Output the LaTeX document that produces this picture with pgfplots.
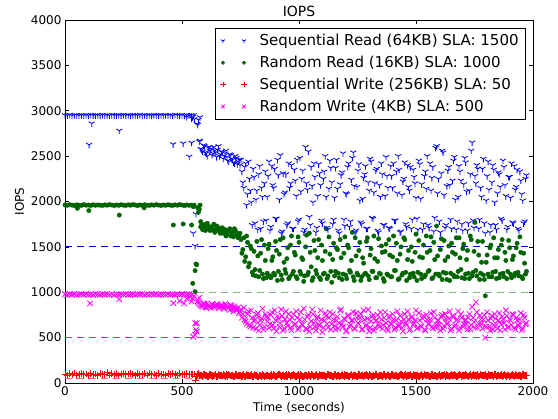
\documentclass[border=0pt]{standalone}
\usepackage{pgfplots}
\pgfplotsset{compat=1.18}
\usepackage{pgfplotstable}
\usetikzlibrary{plotmarks}
\usepackage{fontspec}
\setmainfont{DejaVu Sans}
\definecolor{mplgreen}{RGB}{0,100,0}
\definecolor{slagreen}{RGB}{0,128,0}
\definecolor{mplmag}{RGB}{255,0,255}
\definecolor{mplred}{RGB}{255,0,0}
\definecolor{mplblue}{RGB}{0,0,255}
\definecolor{slablue}{RGB}{0,0,200}
\definecolor{slagreenl}{RGB}{128,180,128}
\definecolor{slaredl}{RGB}{255,110,110}

\pgfplotstableread{
t sr rr sw rw
0 2950 1962 95 978
10 2948 1958 88 972
20 2955 1965 102 980
30 2945 1960 92 975
40 2952 1955 110 982
50 2950 1963 85 970
60 2947 1960 98 976
70 2953 1957 105 979
80 2949 1966 90 973
90 2951 1959 100 981
100 2946 1961 87 974
110 2954 1956 108 977
120 2950 1964 93 971
130 2948 1958 99 983
140 2952 1962 86 976
150 2947 1960 104 972
160 2955 1957 91 980
170 2949 1963 97 975
180 2951 1959 112 978
190 2946 1965 89 973
200 2953 1961 101 982
210 2950 1956 94 970
220 2948 1962 107 977
230 2952 1958 88 974
240 2947 1964 96 979
250 2954 1960 103 976
260 2949 1957 90 981
270 2951 1963 99 972
280 2946 1959 109 975
290 2953 1966 92 980
300 2950 1961 86 973
310 2948 1955 105 978
320 2955 1962 97 976
330 2947 1958 91 982
340 2952 1964 102 971
350 2949 1960 88 977
360 2951 1957 110 974
370 2946 1963 94 979
380 2954 1959 100 975
390 2950 1965 87 981
400 2948 1961 106 972
410 2953 1956 93 978
420 2947 1962 99 976
430 2952 1958 89 973
440 2949 1964 104 980
450 2951 1960 91 975
460 2946 1957 108 977
470 2954 1963 96 972
480 2950 1959 88 979
490 2948 1966 102 974
500 2953 1961 95 981
510 2947 1955 90 976
520 2952 1962 106 973
530 2949 1958 93 978
540 2951 1960 99 975
580 2580 1720 88 860
588 2550 1690 76 840
596 2610 1745 95 875
604 2530 1700 82 830
612 2590 1730 70 855
620 2560 1680 92 845
628 2510 1710 85 870
636 2600 1750 78 835
644 2540 1690 99 850
652 2570 1720 73 865
660 2500 1670 87 825
668 2550 1700 80 848
676 2470 1650 94 838
684 2530 1690 71 872
692 2490 1640 84 842
700 2440 1680 90 828
708 2510 1620 77 858
716 2460 1660 86 815
724 2420 1700 74 846
732 2480 1630 96 800
740 2440 1600 81 832
748 2400 1650 80 790
756 2330 1430 72 720
764 2150 1600 91 830
772 2420 1390 68 680
780 2080 1550 85 760
788 2250 1320 77 640
796 1990 1480 94 800
804 2360 1190 70 610
812 1760 1250 83 700
820 2120 1560 88 750
828 2300 1170 66 580
836 1700 1430 79 690
844 2050 1200 92 820
852 2200 1520 74 620
860 1790 1160 86 730
868 2280 1480 78 720
876 1680 1180 84 650
884 2390 1350 71 780
892 2150 1210 90 600
900 1810 1560 76 690
908 2460 1130 82 740
916 2020 1420 95 620
924 1650 1190 73 810
932 2310 1600 86 580
940 2100 1250 79 700
948 1740 1370 68 660
956 2420 1150 92 760
964 2200 1520 75 610
972 1700 1200 87 720
980 2350 1440 80 640
988 2060 1170 72 790
996 1780 1610 94 590
1004 2480 1230 77 700
1012 2250 1380 85 650
1020 1660 1120 70 820
1028 2600 1500 89 600
1036 2130 1190 76 730
1044 1830 1650 83 570
1052 2380 1280 91 680
1060 1990 1160 74 760
1068 2270 1460 81 620
1076 1710 1200 96 710
1084 2410 1580 72 640
1092 2180 1140 88 800
1100 1760 1350 79 560
1108 2330 1210 85 690
1116 2050 1700 69 740
1124 1690 1180 93 610
1132 2450 1420 78 780
1140 2210 1110 86 650
1148 1800 1540 75 700
1156 2370 1230 90 590
1164 2140 1470 80 730
1172 1650 1160 71 660
1180 2290 1380 87 810
1188 2530 1200 77 620
1196 1730 1610 94 700
1204 2080 1150 82 580
1212 2420 1490 73 750
1220 1780 1220 89 640
1228 2480 1660 76 690
1236 2170 1130 84 600
1244 1680 1400 70 770
1252 2340 1190 92 660
1260 2010 1550 79 720
1268 1750 1170 86 590
1276 2260 1320 74 800
1284 2390 1210 88 630
1292 1700 1600 81 710
1300 2120 1140 95 570
1308 2440 1480 72 680
1316 1810 1230 85 750
1324 2200 1370 78 610
1332 2360 1160 91 690
1340 1660 1590 75 640
1348 2050 1200 83 780
1356 2300 1440 69 600
1364 1740 1120 90 720
1372 2490 1530 77 660
1380 2150 1190 86 580
1388 1700 1410 73 740
1396 2280 1170 94 650
1404 2420 1620 80 700
1412 1790 1240 87 610
1420 2090 1350 71 790
1428 2350 1150 84 630
1436 1670 1500 92 680
1444 2220 1210 76 570
1452 2430 1580 89 760
1460 1720 1130 74 640
1468 2160 1460 82 700
1476 2380 1200 95 590
1484 1800 1340 70 730
1492 2270 1170 87 660
1500 2040 1640 79 800
1508 1690 1220 85 610
1516 2410 1390 73 690
1524 2190 1150 91 620
1532 1750 1520 77 740
1540 2330 1190 83 580
1548 2500 1440 88 700
1556 1710 1240 72 650
1564 2120 1610 94 770
1572 2380 1160 80 600
1580 1820 1360 86 720
1588 2610 1730 75 640
1596 2250 1200 89 690
1604 1660 1470 71 580
1612 2560 1140 84 750
1620 2070 1570 92 630
1628 1740 1210 78 710
1636 2340 1390 85 660
1644 2180 1130 74 790
1652 1700 1540 90 600
1660 2450 1190 81 730
1668 2020 1420 87 640
1676 1780 1170 76 700
1684 2390 1600 93 580
1692 2230 1250 72 760
1700 1680 1480 86 620
1708 2480 1150 80 690
1716 2110 1360 88 650
1724 1760 1210 74 720
1732 2300 1620 91 590
1740 2650 1180 79 840
1748 1710 1450 85 670
1756 2200 1240 73 890
1764 2360 1560 90 610
1772 1800 1140 77 740
1780 2050 1330 86 650
1788 2470 1190 82 700
1796 1650 960 94 500
1804 2280 1410 71 780
1812 2130 1170 87 620
1820 1740 1520 79 710
1828 2400 1220 84 590
1836 1990 1380 92 760
1844 1690 1150 75 640
1852 2320 1470 88 690
1860 2160 1200 80 580
1868 1790 1580 73 730
1876 2380 1170 91 660
1884 2060 1350 78 800
1892 1720 1230 86 610
1900 2270 1490 74 700
1908 2420 1160 89 640
1916 1760 1400 81 750
1924 2130 1210 94 590
1932 2350 1540 77 690
1940 1680 1180 85 630
1948 2230 1440 72 770
1956 2010 1150 90 600
1964 1780 1320 80 720
1972 2290 1230 87 660
}\datatab

\pgfplotstableread{
t sr rr sw rw
584 2570 1740 79 850
592 2620 1710 91 868
600 2540 1680 84 836
608 2500 1760 72 878
616 2600 1700 96 842
624 2580 1720 81 825
632 2530 1690 75 860
640 2560 1660 89 852
648 2490 1730 70 870
656 2610 1700 93 832
664 2520 1650 86 845
672 2540 1710 78 862
680 2500 1680 82 818
688 2560 1620 97 855
696 2450 1670 74 835
704 2520 1700 88 806
712 2470 1640 80 848
720 2430 1610 69 790
728 2500 1680 92 825
736 2410 1650 77 812
744 2460 1620 85 770
752 2460 1580 75 810
760 2210 1470 88 760
768 2380 1340 70 700
776 1960 1620 92 650
784 2440 1280 79 790
792 2120 1510 84 620
800 1740 1220 72 720
808 2270 1450 95 680
816 2020 1180 81 600
824 1690 1400 76 770
832 2390 1240 89 640
840 2150 1580 68 710
848 1780 1150 86 590
856 2330 1350 78 760
864 2050 1210 82 680
872 2440 1530 74 610
880 1720 1160 91 750
888 2180 1390 77 640
896 2360 1190 86 800
904 1810 1460 70 570
912 2290 1230 93 710
920 2510 1580 79 660
928 1670 1140 85 740
936 2080 1330 72 600
944 2300 1210 90 790
952 1760 1490 76 630
960 2150 1170 88 700
968 2400 1620 81 580
976 1700 1230 94 760
984 2230 1410 73 650
992 2460 1150 87 720
1000 1800 1550 78 610
1008 2110 1200 92 780
1016 2340 1360 71 640
1024 1690 1180 85 700
1032 2200 1630 80 590
1040 2550 1220 96 750
1048 1740 1440 74 620
1056 2170 1130 89 810
1064 2420 1570 77 660
1072 1660 1240 83 580
1080 2060 1380 70 730
1088 2310 1160 91 640
1096 1790 1520 79 700
1104 2250 1200 86 610
1112 2500 1450 73 770
1120 1710 1150 94 650
1128 2140 1610 80 720
1136 2370 1230 87 590
1144 1750 1360 72 760
1152 2040 1180 90 630
1160 2460 1490 76 690
1168 1680 1210 84 600
1176 2190 1580 78 800
1184 2320 1140 95 650
1192 1800 1430 71 710
1200 2090 1190 88 570
1208 2380 1520 82 740
1216 1720 1240 75 620
1224 2240 1350 92 690
1232 2540 1170 79 780
1240 1660 1600 86 600
1248 2160 1210 73 720
1256 2410 1460 90 650
1264 1770 1130 77 760
1272 2030 1380 85 590
1280 2300 1200 80 700
1288 1700 1560 94 640
1296 2210 1180 72 810
1304 2470 1410 88 610
1312 1820 1230 76 730
1320 2100 1620 83 580
1328 2340 1160 91 690
1336 1680 1340 70 750
1344 2180 1210 86 620
1352 2420 1510 79 700
1360 1740 1150 93 640
1368 2060 1450 75 780
1376 2280 1200 89 600
1384 1710 1580 81 720
1392 2390 1170 74 650
1400 2150 1390 92 760
1408 1790 1240 78 590
1416 2330 1540 85 690
1424 2500 1140 71 630
1432 1660 1420 90 740
1440 2070 1190 83 610
1448 2250 1600 77 700
1456 1750 1220 94 660
1464 2400 1360 80 790
1472 2120 1160 86 580
1480 1700 1500 73 720
1488 2350 1210 91 640
1496 2200 1440 79 690
1504 1810 1130 88 600
1512 2450 1570 75 770
1520 2030 1200 84 630
1528 1690 1380 70 710
1536 2280 1170 93 590
1544 2140 1620 81 750
1552 1740 1230 87 650
1560 2420 1460 76 700
1568 2260 1150 90 620
1576 1670 1550 78 780
1584 2590 1200 85 610
1592 2090 1400 72 690
1600 1780 1180 94 640
1608 2310 1590 80 730
1616 2540 1220 88 600
1624 1710 1350 74 760
1632 2170 1140 91 650
1640 2380 1510 77 710
1648 1800 1210 86 580
1656 2230 1440 79 740
1664 2490 1170 93 620
1672 1690 1600 71 690
1680 2050 1230 84 790
1688 2330 1380 89 610
1696 1750 1160 75 720
1704 2190 1530 82 650
1712 2430 1200 90 700
1720 1680 1460 78 590
1728 2120 1150 86 760
1736 2560 1580 73 640
1744 1790 1220 94 720
1752 2280 1770 80 610
1760 2400 1180 87 780
1768 1700 1410 74 650
1776 2150 1210 91 700
1784 2360 1560 79 600
1792 1760 1140 85 750
1800 2010 1330 72 620
1808 2440 1200 93 690
1816 1660 1490 81 580
1824 2210 1170 88 740
1832 2350 1600 76 640
1840 1740 1230 90 710
1848 2090 1380 83 600
1856 2300 1160 77 770
1864 1810 1520 94 650
1872 2450 1210 80 700
1880 2180 1440 86 590
1888 1690 1150 73 740
1896 2270 1570 89 620
1904 2040 1200 78 690
1912 1770 1360 92 760
1920 2390 1180 75 610
1928 2160 1490 85 720
1936 1700 1220 81 640
1944 2330 1610 88 700
1952 2080 1170 74 580
1960 1760 1430 91 750
1968 2250 1200 79 650
}\datatabb

\begin{document}
\begin{tikzpicture}
\begin{axis}[
  width=468pt, height=363pt, scale only axis,
  xmin=0, xmax=2000, ymin=0, ymax=4000,
  xtick={0,500,...,2000}, ytick={0,500,...,4000},
  minor tick num=0,
  tick align=inside,
  major tick length=4pt,
  every tick/.style={black, line width=0.7pt},
  axis line style={line width=0.9pt},
  tick label style={font=\fontsize{12}{14}\selectfont},
  /pgf/number format/assume math mode=true,
  /pgf/number format/1000 sep={},
  xlabel={Time (seconds)}, ylabel={IOPS},
  label style={font=\fontsize{12}{14}\selectfont},
  title={IOPS},
  title style={font=\fontsize{14}{16}\selectfont, yshift=-6pt},
  legend cell align=left,
  legend style={at={(rel axis cs:1,1)}, xshift=-7pt, yshift=-8pt, anchor=north east,
    font=\fontsize{15}{18}\selectfont, draw=black, line width=0.8pt,
    row sep=5pt, inner xsep=5pt, inner ysep=4pt,
    /tikz/every odd column/.append style={column sep=11pt}},
  twomarks/.style={legend image code/.code={\draw[##1,mark size=#1] plot coordinates {(0pt,0pt) (21pt,0pt)};}},
  sr/.style={only marks, mark=Mercedes star flipped, mark size=3.5pt, color=mplblue, mark options={line width=0.85pt}},
  rr/.style={only marks, mark=*, mark size=2.2pt, color=mplgreen, mark options={draw=mplgreen, fill=mplgreen}},
  sw/.style={only marks, mark=+, mark size=3.4pt, color=mplred, mark options={line width=0.8pt}},
  rw/.style={only marks, mark=x, mark size=3.9pt, color=mplmag, mark options={line width=0.8pt}},
  sla/.style={forget plot, no marks, dash pattern=on 7pt off 5pt, line width=1pt, draw=#1},
  clip=true,
]
\addplot[sr, twomarks=2.4pt] table[x=t, y=sr] {\datatab};
\addlegendentry{Sequential Read (64KB) SLA: 1500}
\addplot[rr, twomarks=1.5pt] table[x=t, y=rr] {\datatab};
\addlegendentry{Random Read (16KB) SLA: 1000}
\addplot[sw, twomarks=2.6pt] table[x=t, y=sw] {\datatab};
\addlegendentry{Sequential Write (256KB) SLA: 50}
\addplot[rw, twomarks=2.6pt] table[x=t, y=rw] {\datatab};
\addlegendentry{Random Write (4KB) SLA: 500}

% second half of the samples
\addplot[sr, forget plot] table[x=t, y=sr] {\datatabb};
\addplot[rr, forget plot] table[x=t, y=rr] {\datatabb};
\addplot[sw, forget plot] table[x=t, y=sw] {\datatabb};
\addplot[rw, forget plot] table[x=t, y=rw] {\datatabb};

% outliers and transition points
\addplot[sr, forget plot]
  coordinates {(103,2625) (114,2860) (232,2780) (462,2630) (505,2640) (531,2494) (541,2917) (541,2648) (545,2930) (548,1650) (553,2906) (556,1510) (560,1860) (565,2854) (567,2843) (570,2900) (574,2660) (577,2928) (577,2670) (550,2950) (520,2930)};
\addplot[rr, forget plot]
  coordinates {(53,1925) (102,1900) (232,1850) (338,1930) (463,1741) (505,1752) (541,1741) (546,1098) (548,1943) (552,1960) (556,1238) (556,1006) (560,1311) (563,1303) (567,1930) (570,1880) (574,1913) (577,1960) (580,1778)};
\addplot[sw, forget plot]
  coordinates {(546,95) (552,100) (556,30) (560,75) (565,90) (570,102) (575,85)};
\addplot[rw, forget plot]
  coordinates {(107,878) (232,922) (463,880) (490,905) (509,878) (520,930) (534,950) (541,900) (546,930) (548,510) (552,960) (556,529) (556,658) (560,585) (563,565) (563,658) (567,900) (570,880) (574,940) (577,870)};

% SLA lines
\addplot[sla=slablue] coordinates {(0,1500) (2000,1500)};
\addplot[sla=slagreenl] coordinates {(0,1000) (2000,1000)};
\addplot[sla=mplmag] coordinates {(0,500) (2000,500)};
\addplot[sla=slaredl] coordinates {(0,50) (2000,50)};

\coordinate (sw) at (rel axis cs:0,0);
\coordinate (ne) at (rel axis cs:1,1);
\end{axis}
\pgfresetboundingbox
\path[use as bounding box] ([xshift=-65pt,yshift=-36pt]sw) rectangle ([xshift=25pt,yshift=20pt]ne);
\end{tikzpicture}
\end{document}
